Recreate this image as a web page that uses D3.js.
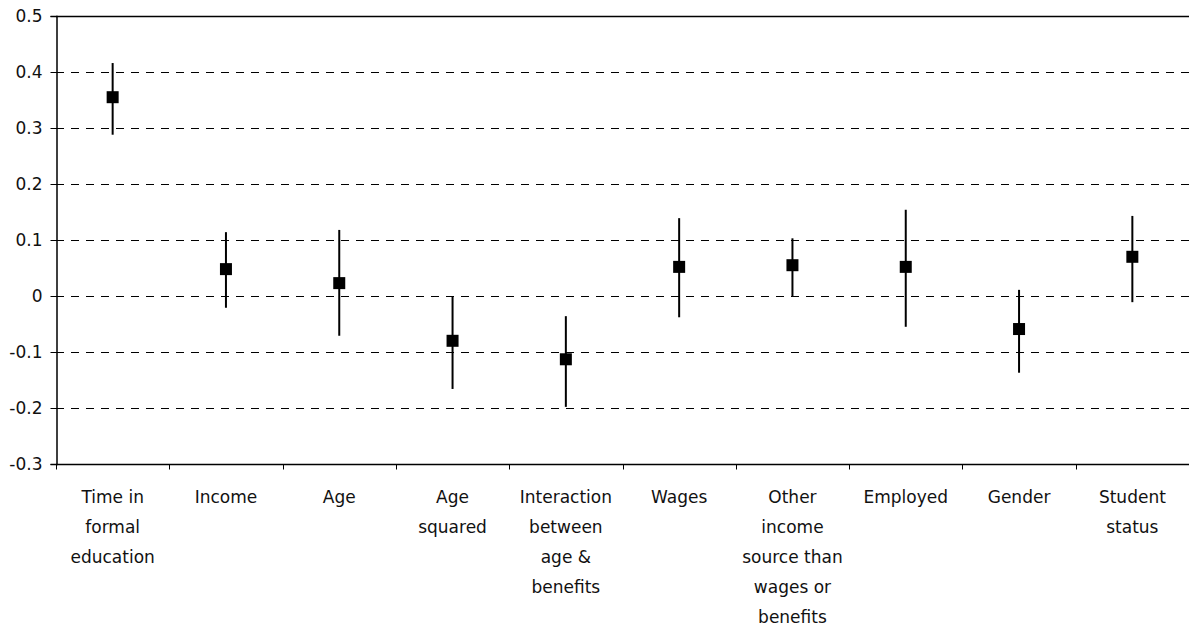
<!DOCTYPE html>
<html>
<head>
<meta charset="utf-8">
<script src="https://cdn.jsdelivr.net/npm/d3@7/dist/d3.min.js"></script>
<style>
  body { margin: 0; background: #fff; }
  text { font-family: "DejaVu Sans", "Noto Sans", sans-serif; font-size: 17px; fill: #111; }
</style>
</head>
<body>
<svg id="chart" width="1189" height="628"></svg>
<script>
// categories (labels split on line breaks)
var categories = [
  ["Time in", "formal", "education"],
  ["Income"],
  ["Age"],
  ["Age", "squared"],
  ["Interaction", "between", "age &", "benefits"],
  ["Wages"],
  ["Other", "income", "source than", "wages or", "benefits"],
  ["Employed"],
  ["Gender"],
  ["Student", "status"]
];
var estimates = [0.355, 0.048, 0.023, -0.080, -0.113, 0.052, 0.055, 0.052, -0.059, 0.070];
var upper     = [0.416, 0.114, 0.118, 0.000, -0.036, 0.139, 0.103, 0.154, 0.011, 0.143];
var lower     = [0.288, -0.021, -0.071, -0.166, -0.198, -0.038, -0.001, -0.055, -0.137, -0.011];
var yTicks = [-0.3, -0.2, -0.1, 0, 0.1, 0.2, 0.3, 0.4, 0.5];

var svg = d3.select("#chart");
var plotLeft = 56, plotRight = 1189, plotTop = 16, plotBottom = 464;

var x = d3.scaleBand()
  .domain(d3.range(categories.length))
  .range([plotLeft, plotRight]);

var y = d3.scaleLinear()
  .domain([-0.3, 0.5])
  .range([plotBottom, plotTop]);

// dashed gridlines
svg.append("g")
  .selectAll("line")
  .data(yTicks.filter(function(t){ return t > -0.3 && t < 0.5; }))
  .join("line")
  .attr("x1", plotLeft).attr("x2", plotRight)
  .attr("y1", function(d){ return Math.round(y(d)) + 0.5; })
  .attr("y2", function(d){ return Math.round(y(d)) + 0.5; })
  .attr("stroke", "#000")
  .attr("stroke-width", 1)
  .attr("stroke-dasharray", "8,7");

// top border
svg.append("line")
  .attr("x1", plotLeft).attr("x2", plotRight)
  .attr("y1", y(0.5) + 0.5).attr("y2", y(0.5) + 0.5)
  .attr("stroke", "#000").attr("stroke-width", 1.5);

// y axis (plain hyphen for negatives, like the original)
var yAxis = d3.axisLeft(y)
  .tickValues(yTicks)
  .tickSize(6)
  .tickPadding(8)
  .tickFormat(function(d){ return d === 0 ? "0" : d.toFixed(1); });

var gy = svg.append("g")
  .attr("transform", "translate(" + (plotLeft + 0.5) + ",0)")
  .call(yAxis);
gy.select(".domain").attr("stroke-width", 1.5);
gy.attr("font-family", null).attr("font-size", null);

// x axis
var gx = svg.append("g")
  .attr("transform", "translate(0," + (plotBottom + 0.5) + ")");
gx.append("line")
  .attr("x1", plotLeft).attr("x2", plotRight)
  .attr("stroke", "#000").attr("stroke-width", 1.5);
gx.selectAll("line.tick")
  .data(d3.range(categories.length + 1))
  .join("line")
  .attr("class", "tick")
  .attr("x1", function(i){ return Math.round(plotLeft + i * x.step()) + 0.5; })
  .attr("x2", function(i){ return Math.round(plotLeft + i * x.step()) + 0.5; })
  .attr("y1", 0).attr("y2", 5)
  .attr("stroke", "#000");

// category labels
gx.selectAll("text.cat")
  .data(categories)
  .join("text")
  .attr("class", "cat")
  .attr("text-anchor", "middle")
  .attr("transform", function(d, i){ return "translate(" + (x(i) + x.bandwidth() / 2) + ",38)"; })
  .selectAll("tspan")
  .data(function(d){ return d; })
  .join("tspan")
  .attr("x", 0)
  .attr("y", function(d, j){ return j * 30; })
  .text(function(d){ return d; });

// error bars
var idx = d3.range(categories.length);
svg.append("g")
  .selectAll("line")
  .data(idx)
  .join("line")
  .attr("x1", function(i){ return x(i) + x.bandwidth() / 2; })
  .attr("x2", function(i){ return x(i) + x.bandwidth() / 2; })
  .attr("y1", function(i){ return y(upper[i]); })
  .attr("y2", function(i){ return y(lower[i]); })
  .attr("stroke", "#000")
  .attr("stroke-width", 2);

// square markers
var ms = 12;
svg.append("g")
  .selectAll("rect")
  .data(idx)
  .join("rect")
  .attr("x", function(i){ return x(i) + x.bandwidth() / 2 - ms / 2; })
  .attr("y", function(i){ return y(estimates[i]) - ms / 2; })
  .attr("width", ms).attr("height", ms)
  .attr("fill", "#000");
</script>
</body>
</html>
